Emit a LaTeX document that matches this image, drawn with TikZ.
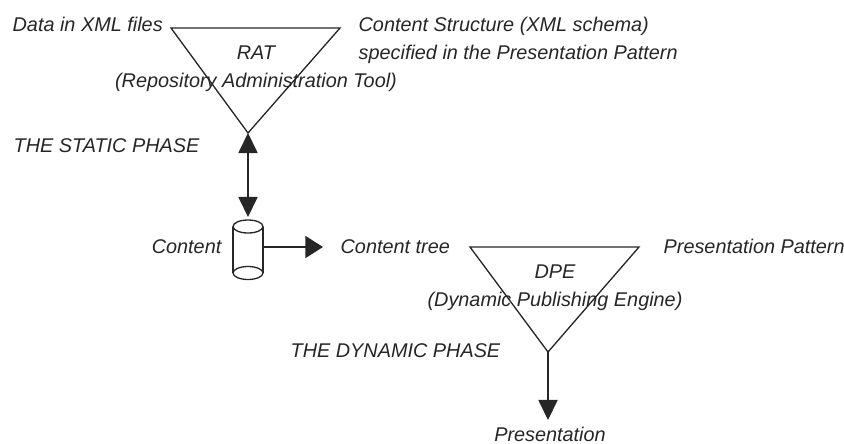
\documentclass[tikz,border=0pt]{standalone}
\usepackage{fontspec}
\setmainfont{Liberation Sans}
\usetikzlibrary{arrows.meta}
\begin{document}
\begin{tikzpicture}[x=0.02cm,y=-0.02cm]
\newcommand{\labeltext}{\node[font=\fontsize{11.3}{13}\selectfont\itshape, text=black!85, inner sep=0pt]}
\newcommand{\tipwidth}{11pt}
\newcommand{\tiplength}{11.5pt}

\tikzset{every path/.style={line width=.75pt, draw=black!85},
  tipped/.style={-{Triangle[length=\tiplength, width=\tipwidth, fill=black!85]}},
  widetipped/.style={-{Triangle[length=10pt, width=12.5pt, fill=black!85]}},
  twotipped/.style={{Triangle[length=\tiplength, width=\tipwidth, fill=black!85]}-{Triangle[length=\tiplength, width=\tipwidth, fill=black!85]}}}
    \path[use as bounding box, draw=none] (0,0) rectangle (844,443);

    \coordinate (ratleft) at (171,28);
    \coordinate (ratright) at (340,28);
    \coordinate (ratapex) at (248,133);
    \draw (ratleft) -- (ratright) -- (ratapex) -- cycle;

    \coordinate (dpeleft) at (470,247);
    \coordinate (dperight) at (639,247);
    \coordinate (dpeapex) at (548,352);
    \draw (dpeleft) -- (dperight) -- (dpeapex) -- cycle;

    % repository cylinder
    \coordinate (contenttop) at (248,217);
    \coordinate (contentside) at (263,247);
    \draw (248,226.5) ellipse (15 and 6.5);
    \draw (248,273) ellipse (15 and 6.5);
    \draw (233,226.5) -- (233,273);
    \draw (263,226.5) -- (263,273);

    \labeltext[anchor=base west] (datafiles) at (12,31) {Data in XML files};
    \labeltext[anchor=base west] (structure) at (358,31) {Content Structure (XML schema)};
    \labeltext[anchor=base west] (specified) at (358,59) {specified in the Presentation Pattern};
    \labeltext[anchor=base] (rat) at (256,59) {RAT};
    \labeltext[anchor=base] (ratname) at (256,87) {(Repository Administration Tool)};
    \labeltext[anchor=base west] (static) at (13,152) {THE STATIC PHASE};
    \labeltext[anchor=base east] (content) at (222,253) {Content};
    \labeltext[anchor=base west] (tree) at (340,253) {Content tree};
    \labeltext[anchor=base west] (pattern) at (663,253) {Presentation Pattern};
    \labeltext[anchor=base] (dpe) at (555,278) {DPE};
    \labeltext[anchor=base] (dpename) at (555,306) {(Dynamic Publishing Engine)};
    \labeltext[anchor=base west] (dynamic) at (290,357) {THE DYNAMIC PHASE};
    \labeltext[anchor=base] (presentation) at (550,441) {Presentation};

    \coordinate (treetip) at (323,247);
    \coordinate (presentationtip) at (548,420);
    \draw[twotipped] (ratapex) -- (contenttop);
    \draw[widetipped] (contentside) -- (treetip);
    \draw[tipped] (dpeapex) -- (presentationtip);
\end{tikzpicture}
\end{document}
